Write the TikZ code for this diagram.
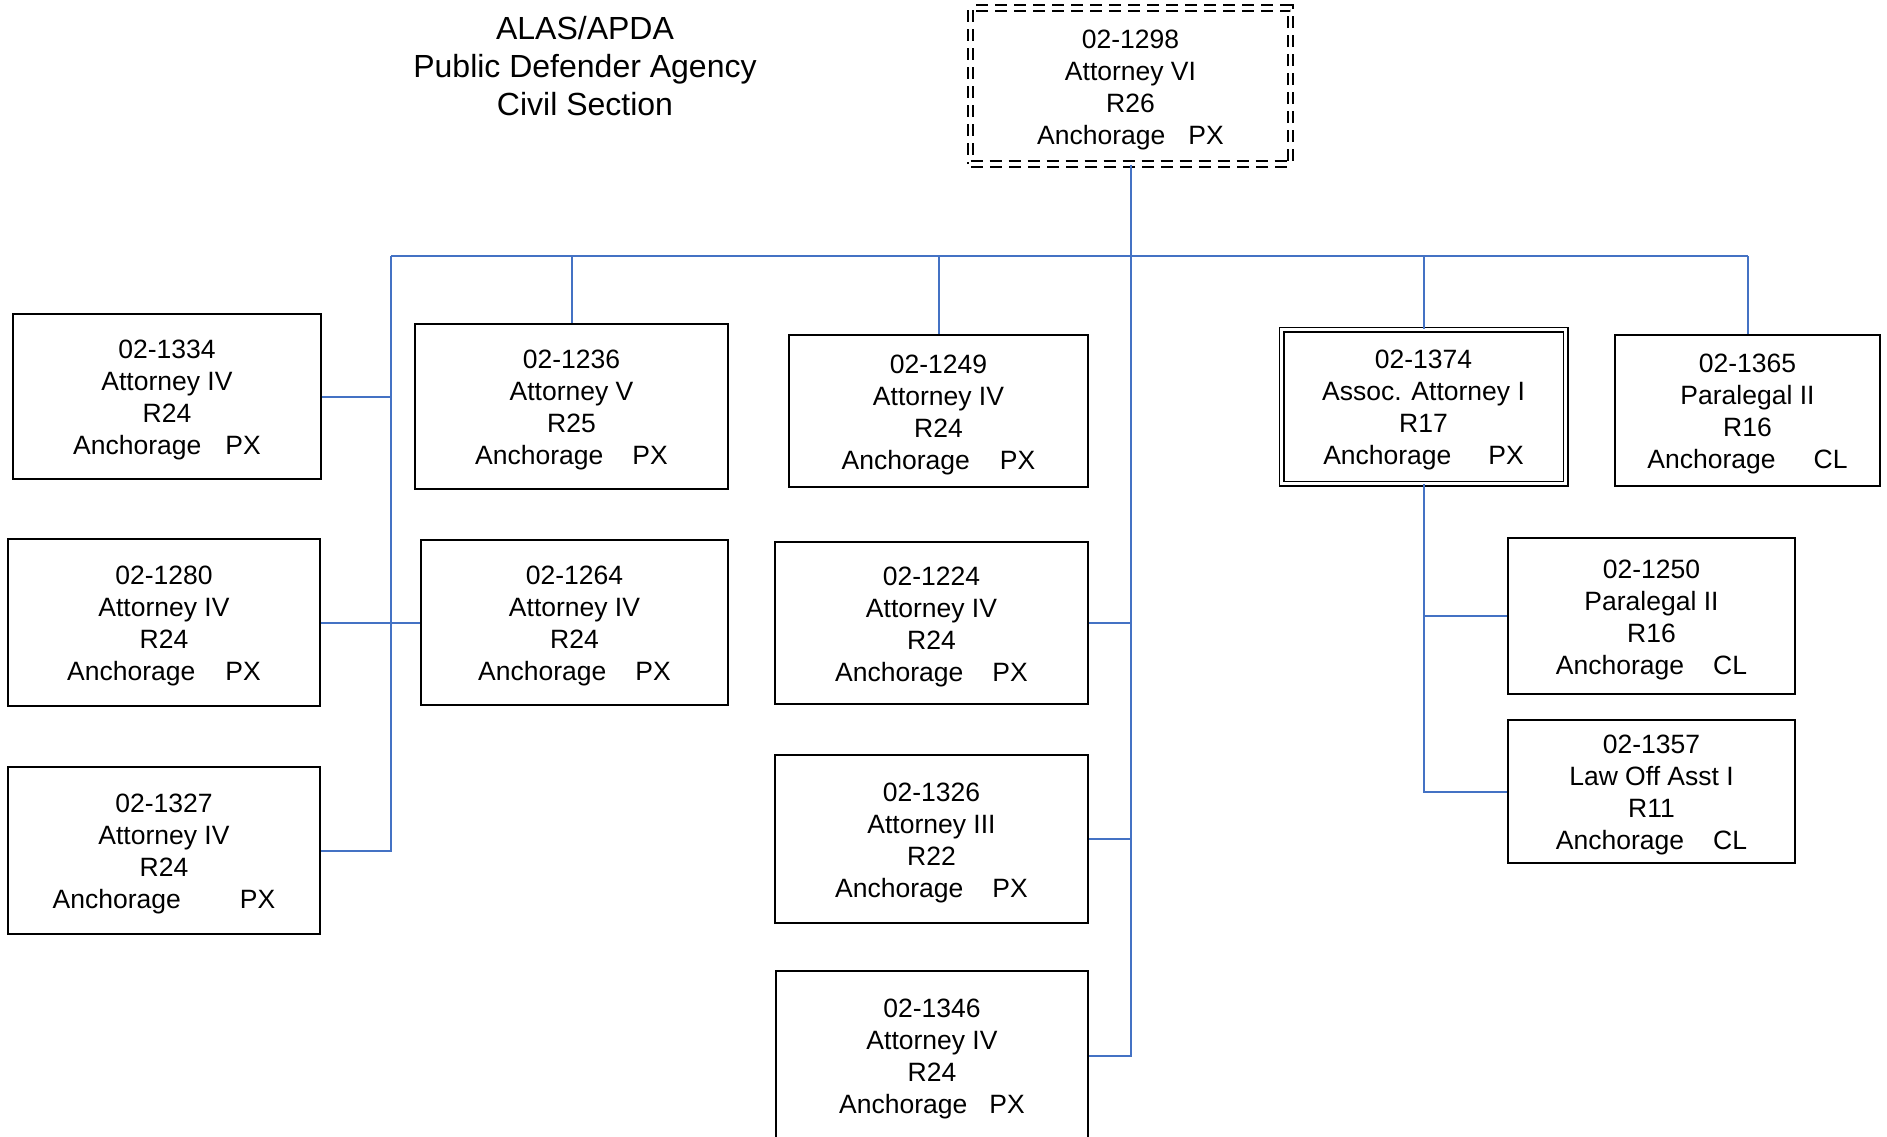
\documentclass[tikz,border=0pt]{standalone}
\usepackage{fontspec}
\setmainfont{Liberation Sans}
\definecolor{conn}{RGB}{68,114,196}
\newcommand{\topstrut}{\rule{0pt}{26pt}}
\tikzset{
  box/.style={draw=black, line width=1.8pt, inner sep=0pt, align=center,
    font=\fontsize{26.5pt}{32pt}\selectfont},
  dblbox/.style={box, double, double distance=3pt, line width=1.5pt},
  dashbox/.style={box, dash pattern=on 12pt off 7pt, double, double distance=3.5pt, line width=1.8pt},
  link/.style={draw=conn, line width=2pt},
}
\begin{document}
\begin{tikzpicture}[x=1pt,y=-1pt]
\useasboundingbox (0,0) rectangle (1887,1136);
\clip (0,0) rectangle (1887,1136);

\node[align=center, font=\fontsize{32pt}{38.4pt}\selectfont] (title) at (585,66)
  {ALAS/APDA\\Public Defender Agency\\Civil Section};

\node[dashbox, minimum width=320pt, minimum height=156pt] (n1298) at (1130.5,86)
  {\topstrut 02-1298\\Attorney VI\\R26\\Anchorage\hspace{23pt}PX};

\node[box, minimum width=308pt, minimum height=165pt] (n1334) at (167,396.5)
  {\topstrut 02-1334\\Attorney IV\\R24\\Anchorage\hspace{24pt}PX};
\node[box, minimum width=312pt, minimum height=167pt] (n1280) at (164,622.5)
  {\topstrut 02-1280\\Attorney IV\\R24\\Anchorage\hspace{30pt}PX};
\node[box, minimum width=312pt, minimum height=167pt] (n1327) at (164,850.5)
  {\topstrut 02-1327\\Attorney IV\\R24\\Anchorage\hspace{59pt}PX};

\node[box, minimum width=313pt, minimum height=165pt] (n1236) at (571.5,406.5)
  {\topstrut 02-1236\\Attorney V\\R25\\Anchorage\hspace{29pt}PX};
\node[box, minimum width=307pt, minimum height=165pt] (n1264) at (574.5,622.5)
  {\topstrut 02-1264\\Attorney IV\\R24\\Anchorage\hspace{29pt}PX};

\node[box, minimum width=299pt, minimum height=152pt] (n1249) at (938.5,411)
  {\topstrut 02-1249\\Attorney IV\\R24\\Anchorage\hspace{30pt}PX};
\node[box, minimum width=313pt, minimum height=162pt] (n1224) at (931.5,623)
  {\topstrut 02-1224\\Attorney IV\\R24\\Anchorage\hspace{29pt}PX};
\node[box, minimum width=313pt, minimum height=168pt] (n1326) at (931.5,839)
  {\topstrut 02-1326\\Attorney III\\R22\\Anchorage\hspace{29pt}PX};
\node[box, minimum width=312pt, minimum height=169pt] (n1346) at (932,1055.5)
  {\topstrut 02-1346\\Attorney IV\\R24\\Anchorage\hspace{22pt}PX};

\node[dblbox, minimum width=284pt, minimum height=154pt] (n1374) at (1423.5,406.5)
  {\topstrut 02-1374\\Assoc. Attorney I\\R17\\Anchorage\hspace{37pt}PX};
\node[box, minimum width=265pt, minimum height=151pt] (n1365) at (1747.5,410.5)
  {\topstrut 02-1365\\Paralegal II\\R16\\Anchorage\hspace{38pt}CL};
\node[box, minimum width=287pt, minimum height=156pt] (n1250) at (1651.5,616)
  {\topstrut 02-1250\\Paralegal II\\R16\\Anchorage\hspace{29pt}CL};
\node[box, minimum width=287pt, minimum height=143pt] (n1357) at (1651.5,791.5)
  {\topstrut 02-1357\\Law Off Asst I\\R11\\Anchorage\hspace{29pt}CL};

\coordinate (busL) at (391,256);
\coordinate (busR) at (n1365.north |- busL);

% connectors
\draw[link] (busL) -- (busR);
\draw[link] (n1298.south) |- (n1346.east);
\draw[link] (n1236.north |- busL) -- (n1236.north);
\draw[link] (n1249.north |- busL) -- (n1249.north);
\draw[link] (n1374.north |- busL) -- (n1374.north);
\draw[link] (busR) -- (n1365.north);
\draw[link] (busL) |- (n1327.east);
\draw[link] (n1334.east) -- (n1334.east -| busL);
\draw[link] (n1280.east) -- (n1264.west);
\draw[link] (n1224.east) -- (n1224.east -| n1298.south);
\draw[link] (n1326.east) -- (n1326.east -| n1298.south);
\draw[link] (n1374.south) |- (n1357.west);
\draw[link] (n1250.west) -- (n1250.west -| n1374.south);
\end{tikzpicture}
\end{document}
